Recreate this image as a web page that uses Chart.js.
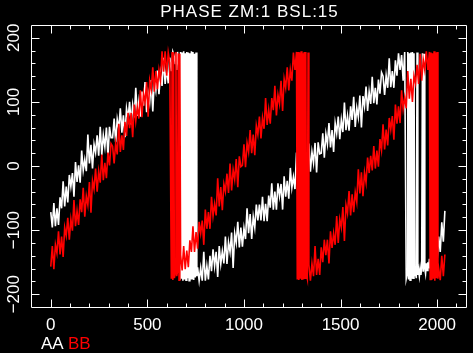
<!DOCTYPE html>
<html>
<head>
<meta charset="utf-8">
<script src="https://cdn.jsdelivr.net/npm/chart.js@4.4.0/dist/chart.umd.min.js"></script>
<style>
  html, body { margin: 0; padding: 0; background: #000; }
</style>
</head>
<body>
<canvas id="phase" width="473" height="353"></canvas>
<script>
// phase samples; each segment starts at a sample index and keeps one sample every `step`
// rising parts are thinned to every 8th sample, wrap-around parts to every 4th

// AA (white)
const aaRise1 = [
  -72, -96, -58, -94, -66, -92, -49, -66, -24, -63,
  -32, -57, -14, -32, -11, -48, 6, -25, 1, -26,
  24, -7, 10, -8, 49, 4, 33, -4, 34, 21,
  48, 16, 61, 17, 48, 30, 60, 15, 61, 44,
  44, 74, 37, 73, 58, 90, 52, 79, 45, 90,
  74, 100, 65, 95, 76, 122, 78, 101, 77, 116,
  94, 131, 84, 114, 99, 134, 85, 134, 118, 149,
  112, 144, 125, 169, 128, 154, 129, 169, 148, 178,
];
const aaWrap1 = [
  170, 160, 176, 150, 178, 165, 172, -178,
  178, -176, 177, -179, 179, -177, 176, -178, 178, -175, 177,
  -179, 176, -177, 179, -176, 178, -178, 175, -174, 177, -172,
];
const aaRise2 = [
  -158, -179, -159, -179, -134, -179, -156, -177, -140, -164,
  -130, -156, -134, -173, -125, -153, -133, -152, -110, -153,
  -119, -134, -104, -159, -105, -120, -87, -127, -96, -126,
  -97, -114, -66, -105, -75, -114, -79, -96, -60, -85,
  -60, -85, -48, -86, -59, -86, -46, -65, -27, -68,
  -40, -68, -27, -47, -28, -68, -16, -48, -23, -51,
  -3, -34, -17, -36, 21, -24, 5, -32, 7, -6,
  21, -10, 35, -9, 22, 5, 36, -10, 37, 19,
  20, 51, 13, 50, 34, 67, 29, 56, 22, 67,
  51, 77, 42, 72, 53, 99, 56, 78, 55, 93,
  72, 108, 61, 91, 76, 110, 60, 109, 93, 124,
  86, 116, 97, 139, 98, 122, 96, 135, 113, 146,
  140, 111, 141, 122, 168, 123, 148, 122, 165, 141,
  176, 150, 173, 133, 178,
];
const aaWrap2 = [
  -176, -170, 178, -177, 176, -178, 177, -176, 178, -175, 176,
  -172, -165, -175, 177, -170, -162, -172, -160, -170, -158,
  176, -165, 175, -160, -168, -152, -163, -150, -160, -145, -158,
];
const aaRise3 = [-165, -134, -158, -124, -146, -110, -134, -88, -118, -70];

const aaStarts = [0, 640, 760, 1840, 1968];
const aaSteps = [8, 4, 8, 4, 8];

// BB (red)
const bbRise1 = [
  -157, -125, -161, -123, -136, -102, -138, -110, -142, -96,
  -109, -81, -115, -83, -101, -53, -94, -70, -92, -52,
  -72, -34, -79, -47, -61, -25, -73, -23, -36, -4,
  -40, -8, -26, 18, -22, 5, -19, 21, 1, 35,
  31, 4, 36, 18, 66, 22, 48, 25, 69, 47,
  83, 59, 83, 45, 96, 70, 92, 74, 118, 76,
  113, 99, 131, 77, 133, 119, 154, 116, 148, 120,
  150, 134, 179, 147, 179, 141, 177, 161,
];
const bbWrap1 = [-176, 178, -178, 177, -175, -168, 178, -172, -165, 176, -178, 175];
const bbRise2 = [
  -139, -163, -125, -161, -132, -158, -116, -134, -94, -134,
  -103, -129, -87, -105, -85, -123, -68, -98, -72, -98,
  -48, -78, -59, -77, -19, -63, -33, -69, -28, -40,
  -12, -42, 4, -38, -6, -21, 11, -33, 15, -1,
  1, 34, -2, 36, 22, 56, 20, 49, 17, 63,
  49, 77, 43, 75, 58, 106, 64, 88, 66, 106,
  87, 125, 79, 111, 97, 133, 86, 136, 122, 154,
  118, 150, 133, 177, 150,
];
const bbWrap2 = [178, -177, 178, -178, 177, -176, 179, -178, 176, -177, 178, -175, 178, -170, -176, 177];
const bbRise3 = [
  -154, -179, -152, -172, -125, -170, -145, -170, -127, -150,
  -115, -139, -115, -152, -102, -128, -105, -123, -78, -120,
  -83, -96, -64, -117, -61, -74, -39, -77, -44, -72,
  -41, -56, -5, -43, -10, -47, -10, -26, 13, -11,
  16, -7, 31, -4, 24, -1, 42, 25, 65, 26,
  57, 32, 75, 57, 78, 41, 96, 66, 93, 67,
  118, 89, 107, 90, 148, 105, 136, 100, 141, 129,
  158, 128, 175, 133, 166, 150, 179, 150,
];
const bbWrap3 = [178, -177, 177, -178, 176, -176, 179, -179, 177, -175, 178, -176];
const bbTail = [-160, -178, -140, -172, -138];

const bbStarts = [0, 624, 672, 1272, 1336, 1960, 2008];
const bbSteps = [8, 4, 8, 4, 8, 4, 8];

const xTicks = [0, 500, 1000, 1500, 2000];
const xTickLabels = ["0", "500", "1000", "1500", "2000"];
const yTicks = [-200, -100, 0, 100, 200];
const yTickLabels = ["\u2212200", "\u2212100", "0", "100", "200"];
const TITLE = "PHASE ZM:1 BSL:15";

function toPoints(segments, starts, steps) {
  const pts = [];
  segments.forEach((vals, s) => {
    vals.forEach((v, i) => pts.push({ x: starts[s] + i * steps[s], y: v }));
  });
  return pts;
}

const aaPoints = toPoints([aaRise1, aaWrap1, aaRise2, aaWrap2, aaRise3], aaStarts, aaSteps);
const bbPoints = toPoints([bbRise1, bbWrap1, bbRise2, bbWrap2, bbRise3, bbWrap3, bbTail], bbStarts, bbSteps);

const FONT = '17px "Liberation Sans", Arial, sans-serif';

// pgplot style box: frame, inward ticks on all sides, rotated y labels
const pgBox = {
  id: "pgBox",
  beforeDraw(chart) {
    const ctx = chart.ctx;
    ctx.save();
    ctx.fillStyle = "#000";
    ctx.fillRect(0, 0, chart.width, chart.height);
    ctx.restore();
  },
  afterDraw(chart) {
    const { ctx, chartArea: a } = chart;
    const x = chart.scales.x;
    const y = chart.scales.y;
    ctx.save();
    ctx.strokeStyle = "#fff";
    ctx.lineWidth = 1;
    ctx.beginPath();
    ctx.rect(a.left + 0.5, a.top + 0.5, a.right - a.left, a.bottom - a.top);
    for (let v = -100; v <= 2100; v += 100) {
      const px = Math.round(x.getPixelForValue(v)) + 0.5;
      if (px <= a.left + 1 || px >= a.right) continue;
      const len = v % 500 === 0 ? 8 : 4;
      ctx.moveTo(px, a.bottom + 0.5);
      ctx.lineTo(px, a.bottom + 0.5 - len);
      ctx.moveTo(px, a.top + 0.5);
      ctx.lineTo(px, a.top + 0.5 + len);
    }
    for (let v = -200; v <= 200; v += 20) {
      const py = Math.round(y.getPixelForValue(v)) + 0.5;
      const len = v % 100 === 0 ? 8 : 4;
      ctx.moveTo(a.left + 0.5, py);
      ctx.lineTo(a.left + 0.5 + len, py);
      ctx.moveTo(a.right + 0.5, py);
      ctx.lineTo(a.right + 0.5 - len, py);
    }
    ctx.stroke();

    ctx.fillStyle = "#fff";
    ctx.font = FONT;
    ctx.textBaseline = "alphabetic";

    ctx.textAlign = "center";
    xTicks.forEach((v, i) => {
      ctx.fillText(xTickLabels[i], x.getPixelForValue(v), 330);
    });

    yTicks.forEach((v, i) => {
      ctx.save();
      ctx.translate(19, y.getPixelForValue(v));
      ctx.rotate(-Math.PI / 2);
      ctx.fillText(yTickLabels[i], 0, 0);
      ctx.restore();
    });

    ctx.save();
    ctx.letterSpacing = "1px";
    ctx.fillText(TITLE, (a.left + a.right) / 2 + 1, 17);
    ctx.restore();

    ctx.textAlign = "left";
    ctx.fillStyle = "#fff";
    ctx.fillText("AA", 41, 349);
    ctx.fillStyle = "#ff0000";
    ctx.fillText("BB", 68, 349);
    ctx.restore();
  },
};

new Chart(document.getElementById("phase"), {
  type: "line",
  data: {
    datasets: [
      {
        label: "AA",
        data: aaPoints,
        borderColor: "#ffffff",
        borderWidth: 1.6,
        pointRadius: 0,
        tension: 0,
        order: 1,
      },
      {
        label: "BB",
        data: bbPoints,
        borderColor: "#ff0000",
        borderWidth: 1.6,
        pointRadius: 0,
        tension: 0,
        order: 0,
      },
    ],
  },
  options: {
    responsive: false,
    animation: false,
    events: [],
    layout: { padding: { left: 31, top: 25, right: 7, bottom: 46 } },
    scales: {
      x: { type: "linear", display: false, min: -102.35, max: 2149.35 },
      y: { type: "linear", display: false, min: -220, max: 220 },
    },
    plugins: {
      legend: { display: false },
      tooltip: { enabled: false },
    },
  },
  plugins: [pgBox],
});
</script>
</body>
</html>
